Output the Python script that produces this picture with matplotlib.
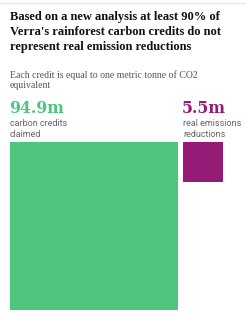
import numpy as np
import matplotlib
matplotlib.use('Agg')
import matplotlib.pyplot as plt

# data
values = [94.9, 5.5]
value_labels = ['94.9m', '5.5m']
descriptions = ['carbon credits\nclaimed', 'real emissions\nreductions']
colors = ['#4fc47f', '#961b76']

title = ("Based on a new analysis at least 90% of\n"
         "Verra's rainforest carbon credits do not\n"
         "represent real emission reductions")
subtitle = "Each credit is equal to one metric tonne of CO2\nequivalent"

W, H = 246, 320
fig = plt.figure(figsize=(W / 100, H / 100), dpi=100)

# faint header rule at the very top
fig.add_artist(plt.Line2D([0, 1], [1 - 3 / H, 1 - 3 / H], color='#e6e6e6', lw=0.8))

fig.text(10 / W, 1 - 11 / H, title, ha='left', va='top', family='Liberation Serif',
         weight='bold', fontsize=9.0, color='#121212', linespacing=1.32)
fig.text(10 / W, 1 - 70 / H, subtitle, ha='left', va='top', family='Liberation Serif',
         fontsize=7.0, color='#555555', linespacing=1.2)

# squares, area proportional to value
px_per_unit = 168 / np.sqrt(values[0])
ax = fig.add_axes([10 / W, 10 / H, 226 / W, 168 / H])
ax.set_xlim(0, 226 / px_per_unit)
ax.set_ylim(168 / px_per_unit, 0)
ax.axis('off')

gap = 5 / px_per_unit
left = 0
for v, lab, desc, c in zip(values, value_labels, descriptions, colors):
    side = np.sqrt(v)
    ax.bar(left, side, width=side, bottom=0, align='edge', color=c)
    ax.annotate(desc, xy=(left, 0), xytext=(0, 5), textcoords='offset pixels',
                ha='left', va='baseline', family='Roboto', fontsize=6.5,
                color='#666666', linespacing=1.3, annotation_clip=False)
    ax.annotate(lab, xy=(left, 0), xytext=(-1, 29), textcoords='offset pixels',
                ha='left', va='baseline', family='DejaVu Serif', weight='bold',
                fontsize=11.3, color=c, annotation_clip=False)
    left += side + gap

fig.savefig('out.png', dpi=100)
